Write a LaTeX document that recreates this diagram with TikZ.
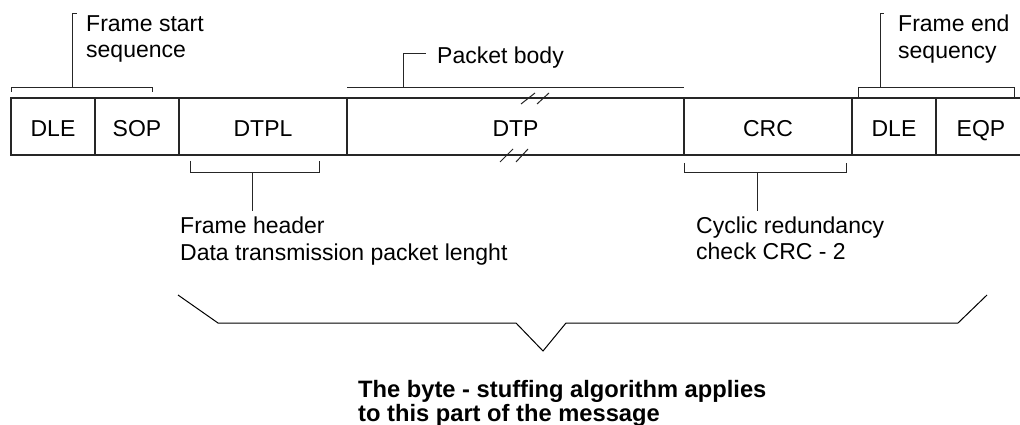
\documentclass[tikz,border=0pt]{standalone}
\usepackage{fontspec}
\setmainfont{Liberation Sans}
\usetikzlibrary{calc}
\begin{document}
\begin{tikzpicture}[x=1pt,y=-1pt,
  ln/.style={draw=black!85,line width=1.1pt},
  cell/.style={ln,rectangle,inner sep=0pt,outer sep=0pt,minimum height=57pt,
    text height=21pt,text depth=0pt,font=\fontsize{23}{25}\selectfont},
  lbl/.style={anchor=base west,inner sep=0pt,font=\fontsize{23}{25}\selectfont},
  blbl/.style={anchor=base west,inner sep=0pt,font=\fontsize{23.7}{25}\selectfont\bfseries},
  brk/.style={draw=black!85,line width=1pt}]
\clip (0,0) rectangle (1020,425);
\fill[white] (0,0) rectangle (1020,425);
% cells
\node[cell,minimum width=84pt] (dle1) at (53,126.5) {DLE};
\node[cell,minimum width=84pt] (sop) at (137,126.5) {SOP};
\node[cell,minimum width=168pt] (dtpl) at (263,126.5) {DTPL};
\node[cell,minimum width=337pt] (dtp) at (515.5,126.5) {DTP};
\node[cell,minimum width=168pt] (crc) at (768,126.5) {CRC};
\node[cell,minimum width=84pt] (dle2) at (894,126.5) {DLE};
\node[cell,minimum width=90pt] (eqp) at (981,126.5) {EQP};
% break marks on DTP
\draw[brk] (521,104) -- (535,93) (537,104) -- (549,93);
\draw[brk] (500,162) -- (513,149) (516,162) -- (528,149);
% labels
\node[lbl] (fs1) at (86,32) {Frame start};
\node[lbl] (fs2) at (86,58) {sequence};
\node[lbl] (pb) at (437,64) {Packet body};
\node[lbl] (fe1) at (898,32) {Frame end};
\node[lbl] (fe2) at (898,59) {sequency};
\node[lbl] (fh1) at (180,233) {Frame header};
\node[lbl] (fh2) at (180,260) {Data transmission packet lenght};
\node[lbl] (cr1) at (696,233) {Cyclic redundancy};
\node[lbl] (cr2) at (696,259) {check CRC - 2};
\node[blbl] (bs1) at (358,397) {The byte - stuffing algorithm applies};
\node[blbl] (bs2) at (358,421) {to this part of the message};
% frame start bracket
\draw[brk] (dle1.north west) ++(0,-6) -- ++(0,-4) -- (152,88) -- ++(0,4);
\draw[brk] (72,88) -- (72,14) -- (77,14);
% packet body bracket
\draw[brk] ($(dtp.north west)+(0,-10)$) -- ($(dtp.north east)+(0,-10)$);
\draw[brk] (403,88) -- (403,54) -- (426,54);
% frame end bracket
\draw[brk] (858,98) -- (858,88) -- (1014,88) -- (1014,98);
\draw[brk] (880,88) -- (880,14) -- (884,14);
% DTPL bracket
\draw[brk] (190,161) -- (190,172) -- (319,172) -- (319,161);
\draw[brk] (252,172) -- (252,211);
% CRC bracket
\draw[brk] ($(crc.south west)+(0,8)$) -- ($(crc.south west)+(0,17)$) -- (846,172) -- (846,163);
\draw[brk] (757,172) -- (757,211);
% big brace
\draw[line width=1pt] (178,295) -- (218,323) -- (516,323) -- (543,351) -- (566,323) -- (958,323) -- (987,295);
\end{tikzpicture}
\end{document}
